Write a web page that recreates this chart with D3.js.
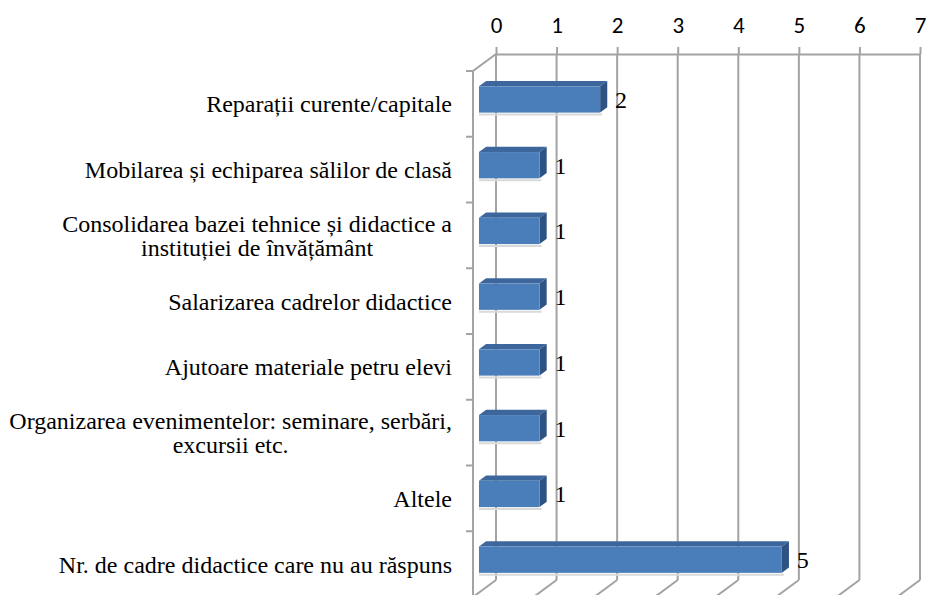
<!DOCTYPE html>
<html>
<head>
<meta charset="utf-8">
<script src="https://cdn.jsdelivr.net/npm/d3@7"></script>
<style>
  body { margin: 0; background: #fff; }
  svg { display: block; }
  .serif { font-family: "Liberation Serif", "Times New Roman", "DejaVu Serif", serif; }
</style>
</head>
<body>
<div id="chart"></div>
<script>
// Data
const categories = [
    "Reparații curente/capitale",
    "Mobilarea și echiparea sălilor de clasă",
    "Consolidarea bazei tehnice și didactice a|instituției de învățământ",
    "Salarizarea cadrelor didactice",
    "Ajutoare materiale petru elevi",
    "Organizarea evenimentelor: seminare, serbări,|excursii etc.",
    "Altele",
    "Nr. de cadre didactice care nu au răspuns"
];
const values = [2, 1, 1, 1, 1, 1, 1, 5];
const tickValues = [0, 1, 2, 3, 4, 5, 6, 7];

const data = categories.map((c, i) => ({ cat: c, value: values[i] }));

const width = 927, height = 595;
const serif = "'Liberation Serif', 'Times New Roman', 'DejaVu Serif', serif";

// back wall box and the 3D depth vector (back -> front)
const wall = {left: 496, right: 920, top: 54, bottom: 580};
const DX = -23, DY = 17;
const fFront = 0.74, fBack = 0.43;   // depth of the bar faces

const svg = d3.select("#chart").append("svg")
    .attr("width", width)
    .attr("height", height);

const x = d3.scaleLinear()
    .domain([0, 7])
    .range([wall.left, wall.right]);

const y = d3.scaleBand()
    .domain(categories)
    .range([wall.top, wall.bottom])
    .paddingInner(0.6)
    .paddingOuter(0.3);

const gridColor = "#a3a3a3";

// top axis (back wall top edge + tick labels)
const axis = svg.append("g")
    .attr("transform", `translate(0,${wall.top})`)
    .call(d3.axisTop(x).tickValues(tickValues).tickSize(7).tickSizeOuter(0).tickPadding(14).tickFormat(d3.format("d")));
axis.attr("font-family", null).attr("font-size", null);
axis.select(".domain").attr("stroke", gridColor).attr("stroke-width", 2);
axis.selectAll(".tick line").attr("stroke", gridColor).attr("stroke-width", 2);
axis.selectAll(".tick text")
    .attr("fill", "#000")
    .attr("font-family", "Carlito, Lato, 'Open Sans', sans-serif")
    .attr("font-size", 23);

// back wall vertical gridlines
svg.append("g").selectAll("line")
    .data(tickValues)
    .enter().append("line")
    .attr("x1", d => x(d)).attr("x2", d => x(d))
    .attr("y1", wall.top).attr("y2", wall.bottom)
    .attr("stroke", gridColor).attr("stroke-width", 2);

// floor gridlines (slanted towards the viewer)
svg.append("g").selectAll("line")
    .data(tickValues)
    .enter().append("line")
    .attr("x1", d => x(d)).attr("y1", wall.bottom)
    .attr("x2", d => x(d) + DX).attr("y2", wall.bottom + DY)
    .attr("stroke", gridColor).attr("stroke-width", 2);

// left wall
const wallX = wall.left + DX;
svg.append("path")
    .attr("d", `M${wallX},${wall.bottom + DY}L${wallX},${wall.top + DY}L${wall.left},${wall.top}`)
    .attr("fill", "none")
    .attr("stroke", gridColor).attr("stroke-width", 2);

// category ticks on the left wall
const bounds = d3.range(categories.length + 1).map(i => wall.top + i * y.step() + DY);
svg.append("g").selectAll("line")
    .data(bounds)
    .enter().append("line")
    .attr("x1", wallX - 7).attr("x2", wallX)
    .attr("y1", d => d).attr("y2", d => d)
    .attr("stroke", gridColor).attr("stroke-width", 2);

// bars: top face, side face, front face
const bars = svg.append("g").selectAll("g")
    .data(data)
    .enter().append("g");

function pt(px, py, f) {
    return [px + DX * f, py + DY * f];
}

bars.append("path")   // soft shadow
    .attr("d", d => {
        const a = pt(x(0), y(d.cat) + y.bandwidth(), fFront);
        const b = pt(x(d.value), y(d.cat) + y.bandwidth(), fFront);
        return `M${a[0]},${a[1] + 1}L${b[0] + 2},${b[1] + 1}L${b[0] + 2},${b[1] + 3}L${a[0]},${a[1] + 3}Z`;
    })
    .attr("fill", "#d9d9d9");

bars.append("path")   // top face
    .attr("d", d => {
        const y0 = y(d.cat);
        const p = [pt(x(0), y0, fFront), pt(x(d.value), y0, fFront), pt(x(d.value), y0, fBack), pt(x(0), y0, fBack)];
        return "M" + p.map(q => q.join(",")).join("L") + "Z";
    })
    .attr("fill", "#3d679c");

bars.append("path")   // right side face
    .attr("d", d => {
        const y0 = y(d.cat), y1 = y0 + y.bandwidth(), xv = x(d.value);
        const p = [pt(xv, y0, fFront), pt(xv, y0, fBack), pt(xv, y1, fBack), pt(xv, y1, fFront)];
        return "M" + p.map(q => q.join(",")).join("L") + "Z";
    })
    .attr("fill", "#2e5282");

bars.append("rect")   // front face
    .attr("x", x(0) + DX * fFront)
    .attr("y", d => y(d.cat) + DY * fFront)
    .attr("width", d => x(d.value) - x(0))
    .attr("height", y.bandwidth())
    .attr("fill", "#4a7ebb");

// value labels
bars.append("text")
    .attr("class", "serif")
    .attr("x", d => x(d.value) + DX * fFront + 15)
    .attr("y", d => y(d.cat) + DY * fFront + y.bandwidth() / 2)
    .attr("dy", "0.35em")
    .attr("font-family", serif)
    .attr("font-size", 24)
    .text(d => d.value);

// category labels (right aligned block, lines centred inside)
const labelRight = 452, lineH = 24;
const labels = svg.append("g").selectAll("text")
    .data(categories)
    .enter().append("text")
    .attr("class", "serif")
    .attr("font-family", serif)
    .attr("font-size", 24)
    .attr("fill", "#000");

labels.each(function(d) {
    const t = d3.select(this);
    const lines = d.split("|");
    const cy = y(d) + y.bandwidth() / 2 + DY;
    const spans = lines.map((l, i) => t.append("tspan")
        .attr("y", cy + (i - (lines.length - 1) / 2) * lineH)
        .attr("dy", "0.35em")
        .text(l));
    const widths = spans.map(s => s.node().getComputedTextLength());
    const maxW = d3.max(widths);
    spans.forEach(s => s.attr("x", labelRight - maxW / 2).attr("text-anchor", "middle"));
});
</script>
</body>
</html>
